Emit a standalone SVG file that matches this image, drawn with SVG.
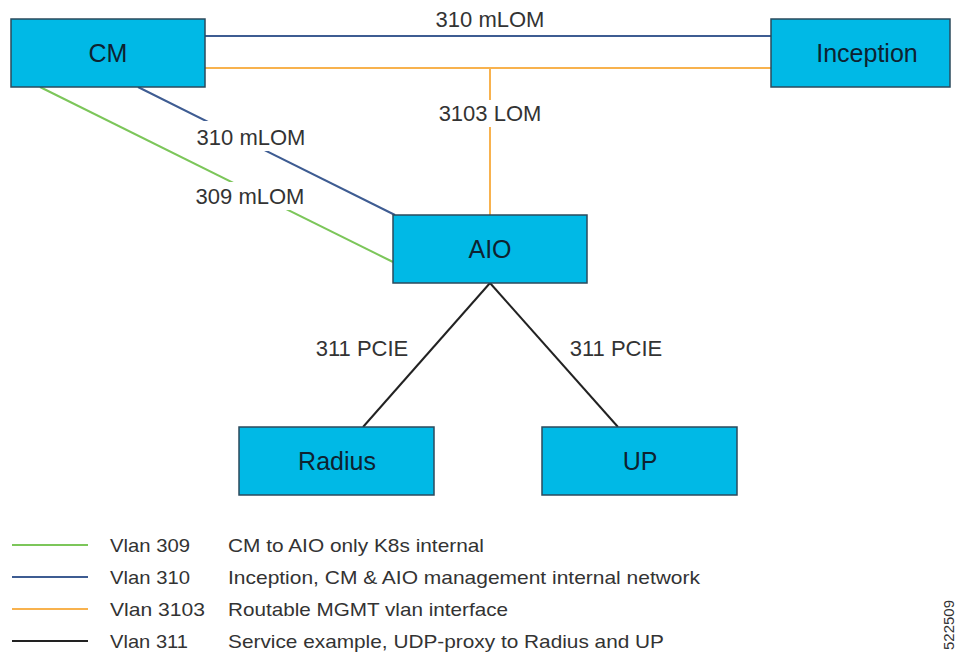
<svg xmlns="http://www.w3.org/2000/svg" width="956" height="658" viewBox="0 0 956 658">
  <style>
    .box { fill: #00B9E6; stroke: #2B4A5C; stroke-width: 1.5; }
    .ntxt { font-family: "Liberation Sans", Arial, sans-serif; font-size: 25px; fill: #0E2230; text-anchor: middle; }
    .lbl { font-family: "Liberation Sans", Arial, sans-serif; font-size: 22px; fill: #333333; text-anchor: middle; }
    .lg { font-family: "Liberation Sans", Arial, sans-serif; font-size: 19px; fill: #333333; }
    .c309 { stroke: #7CC65A; stroke-width: 2; fill: none; }
    .c310 { stroke: #3E5C92; stroke-width: 2; fill: none; }
    .c3103 { stroke: #F8B24E; stroke-width: 2; fill: none; }
    .c311 { stroke: #222222; stroke-width: 2; fill: none; }
    .bg { fill: #FFFFFF; }
  </style>

  <rect width="956" height="658" fill="#FFFFFF"/>

  <g id="connectors">
    <line class="c310" x1="205" y1="36" x2="771" y2="36"/>
    <line class="c3103" x1="205" y1="68" x2="771" y2="68"/>
    <line class="c3103" x1="490" y1="68" x2="490" y2="215"/>
    <line class="c310" x1="138" y1="87" x2="395" y2="215"/>
    <line class="c309" x1="40" y1="87" x2="393" y2="262"/>
    <line class="c311" x1="490" y1="283" x2="363" y2="427"/>
    <line class="c311" x1="490" y1="283" x2="618" y2="427"/>

    <rect class="bg" x="430" y="100" width="120" height="27"/>
    <text class="lbl" x="490" y="121">3103 LOM</text>
    <text class="lbl" x="490" y="27">310 mLOM</text>
    <rect class="bg" x="190" y="121" width="122" height="30"/>
    <text class="lbl" x="251" y="145">310 mLOM</text>
    <rect class="bg" x="190" y="182" width="122" height="28"/>
    <text class="lbl" x="250" y="204">309 mLOM</text>
    <text class="lbl" x="362" y="356">311 PCIE</text>
    <text class="lbl" x="616" y="356">311 PCIE</text>
  </g>

  <g id="node-cm">
    <rect class="box" x="11" y="19" width="194" height="68"/>
    <text class="ntxt" x="108" y="62">CM</text>
  </g>
  <g id="node-inception">
    <rect class="box" x="771" y="19" width="179" height="68"/>
    <text class="ntxt" x="867" y="62">Inception</text>
  </g>
  <g id="node-aio">
    <rect class="box" x="393" y="215" width="194" height="68"/>
    <text class="ntxt" x="490" y="258">AIO</text>
  </g>
  <g id="node-radius">
    <rect class="box" x="239" y="427" width="195" height="68"/>
    <text class="ntxt" x="337" y="470">Radius</text>
  </g>
  <g id="node-up">
    <rect class="box" x="542" y="427" width="195" height="68"/>
    <text class="ntxt" x="640" y="470">UP</text>
  </g>

  <g id="legend">
    <line class="c309" x1="12" y1="545" x2="88" y2="545"/>
    <text class="lg" x="110" y="552" textLength="80" lengthAdjust="spacingAndGlyphs">Vlan 309</text>
    <text class="lg" x="228" y="552" textLength="256" lengthAdjust="spacingAndGlyphs">CM to AIO only K8s internal</text>

    <line class="c310" x1="12" y1="577" x2="88" y2="577"/>
    <text class="lg" x="110" y="584" textLength="80" lengthAdjust="spacingAndGlyphs">Vlan 310</text>
    <text class="lg" x="228" y="584" textLength="472" lengthAdjust="spacingAndGlyphs">Inception, CM &amp; AIO management internal network</text>

    <line class="c3103" x1="12" y1="609" x2="88" y2="609"/>
    <text class="lg" x="110" y="616" textLength="95" lengthAdjust="spacingAndGlyphs">Vlan 3103</text>
    <text class="lg" x="228" y="616" textLength="280" lengthAdjust="spacingAndGlyphs">Routable MGMT vlan interface</text>

    <line class="c311" x1="12" y1="641" x2="88" y2="641"/>
    <text class="lg" x="110" y="648" textLength="78" lengthAdjust="spacingAndGlyphs">Vlan 311</text>
    <text class="lg" x="228" y="648" textLength="436" lengthAdjust="spacingAndGlyphs">Service example, UDP-proxy to Radius and UP</text>
  </g>

  <text transform="translate(954,650) rotate(-90)" font-family="Liberation Sans, Arial, sans-serif" font-size="15" fill="#333333">522509</text>
</svg>
